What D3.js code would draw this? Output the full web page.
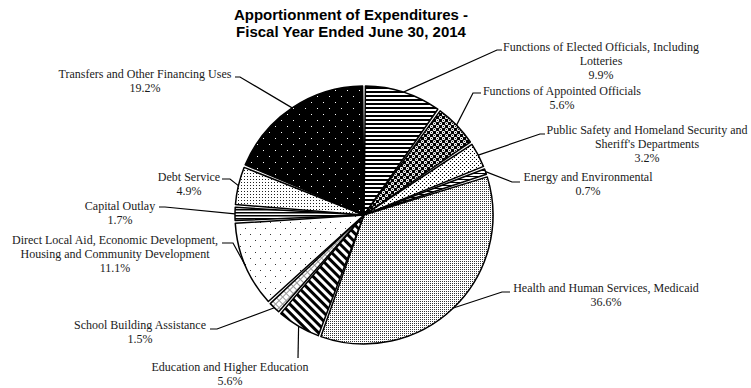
<!DOCTYPE html>
<html>
<head>
<meta charset="utf-8">
<script src="https://cdn.jsdelivr.net/npm/d3@7/dist/d3.min.js"></script>
<style>
  html, body { margin: 0; padding: 0; background: #fff; }
  svg { display: block; }
</style>
</head>
<body>
<svg id="chart" width="751" height="388"></svg>
<script>
// Expenditure categories, clockwise from 12 o'clock
const categories = [
  "Functions of Elected Officials, Including Lotteries",
  "Functions of Appointed Officials",
  "Public Safety and Homeland Security and Sheriff's Departments",
  "Energy and Environmental",
  "Health and Human Services, Medicaid",
  "Education and Higher Education",
  "School Building Assistance",
  "Direct Local Aid, Economic Development, Housing and Community Development",
  "Capital Outlay",
  "Debt Service",
  "Transfers and Other Financing Uses"
];

// Share of total expenditures (%)
const shares = [9.9, 5.6, 3.2, 0.7, 36.6, 5.6, 1.5, 11.1, 1.7, 4.9, 19.2];

// How each category name is broken across label lines
const labelLines = [
  ["Functions of Elected Officials, Including", "Lotteries"],
  ["Functions of Appointed Officials"],
  ["Public Safety and Homeland Security and", "Sheriff's Departments"],
  ["Energy and Environmental"],
  ["Health and Human Services, Medicaid"],
  ["Education and Higher Education"],
  ["School Building Assistance"],
  ["Direct Local Aid, Economic Development,", "Housing and Community Development"],
  ["Capital Outlay"],
  ["Debt Service"],
  ["Transfers and Other Financing Uses"]
];

const titleLines = ["Apportionment of Expenditures -", "Fiscal Year Ended June 30, 2014"];

// Label placement: text block centre x, first baseline y, leader elbow and leader end
const labelLayout = [
  { x: 601, y: 51,  elbow: [497, 50],  end: [502, 50] },
  { x: 562, y: 95,  elbow: [473, 93],  end: [481, 93] },
  { x: 647, y: 134, elbow: [540, 134], end: [545, 134] },
  { x: 588, y: 181, elbow: [512, 182], end: [520, 182] },
  { x: 606, y: 292, elbow: [502, 292], end: [510, 292] },
  { x: 230, y: 371, elbow: [298, 358], end: [298, 358] },
  { x: 140, y: 329, elbow: [217, 329], end: [210, 329] },
  { x: 115, y: 244, elbow: [233, 243], end: [222, 243] },
  { x: 120, y: 210, elbow: [165, 207], end: [159, 207] },
  { x: 189, y: 181, elbow: [230, 179], end: [222, 179] },
  { x: 145, y: 78,  elbow: [240, 77],  end: [235, 77] }
];

const svg = d3.select("#chart");
const cx = 364, cy = 215, R = 129;

// ---- fill patterns, one per slice ----
const defs = svg.append("defs");
function pattern(id, w, h, build, transform) {
  const p = defs.append("pattern")
    .attr("id", id)
    .attr("patternUnits", "userSpaceOnUse")
    .attr("width", w).attr("height", h);
  if (transform) p.attr("patternTransform", transform);
  build(p);
}
const rect = (p, x, y, w, h, fill) =>
  p.append("rect").attr("x", x).attr("y", y).attr("width", w).attr("height", h).attr("fill", fill);
const dot = (p, x, y, r, fill) =>
  p.append("circle").attr("cx", x).attr("cy", y).attr("r", r).attr("fill", fill);

// horizontal stripes
pattern("pat0", 4, 4, p => { rect(p, 0, 0, 4, 4, "#fff"); rect(p, 0, 0, 4, 2, "#000"); });
// white rings on black
pattern("pat1", 6, 6, p => {
  rect(p, 0, 0, 6, 6, "#000");
  dot(p, 1.5, 1.5, 1.6, "#fff"); dot(p, 4.5, 4.5, 1.6, "#fff");
  dot(p, 1.5, 1.5, 0.6, "#000"); dot(p, 4.5, 4.5, 0.6, "#000");
});
// small dots
pattern("pat2", 4, 4, p => { rect(p, 0, 0, 4, 4, "#fff"); rect(p, 0, 0, 1, 1, "#000"); rect(p, 2, 2, 1, 1, "#000"); });
// fine stripes
pattern("pat3", 3, 3, p => { rect(p, 0, 0, 3, 3, "#fff"); rect(p, 0, 0, 3, 1, "#000"); });
// dense dot screen
pattern("pat4", 2, 2, p => { rect(p, 0, 0, 2, 2, "#fff"); rect(p, 0, 0, 1, 1, "#333"); });
// wide diagonal stripes
pattern("pat5", 6, 6, p => { rect(p, 0, 0, 6, 6, "#fff"); rect(p, 0, 0, 6, 3, "#000"); }, "rotate(45)");
// light diagonal grid
pattern("pat6", 5, 5, p => {
  rect(p, 0, 0, 5, 5, "#fff");
  rect(p, 0, 0, 5, 1, "#999"); rect(p, 0, 0, 1, 5, "#999");
}, "rotate(45)");
// sparse dots
pattern("pat7", 10, 12, p => { rect(p, 0, 0, 10, 12, "#fff"); rect(p, 1, 1, 1, 1, "#333"); rect(p, 6, 7, 1, 1, "#333"); });
// fine horizontal stripes
pattern("pat8", 3, 3, p => { rect(p, 0, 0, 3, 3, "#fff"); rect(p, 0, 0, 3, 1.5, "#000"); });
// medium dots
pattern("pat9", 3, 3, p => { rect(p, 0, 0, 3, 3, "#fff"); rect(p, 0, 0, 1, 1, "#222"); });
// white dots on black
pattern("pat10", 12, 12, p => { rect(p, 0, 0, 12, 12, "#000"); rect(p, 1, 1, 1, 1, "#fff"); rect(p, 7, 7, 1, 1, "#fff"); });

// ---- title ----
svg.append("g")
  .selectAll("text")
  .data(titleLines)
  .join("text")
  .attr("x", 351)
  .attr("y", (d, i) => 20 + i * 17)
  .attr("text-anchor", "middle")
  .attr("font-family", "'Liberation Sans', Arial, sans-serif")
  .attr("font-weight", "bold")
  .attr("font-size", 15)
  .attr("fill", "#000")
  .text(d => d);

// ---- pie ----
const pie = d3.pie().sort(null).value(d => d).padAngle(0.022);
const arcs = pie(shares);
const arc = d3.arc().innerRadius(0).outerRadius(R).padRadius(R);

const g = svg.append("g").attr("transform", `translate(${cx},${cy})`);
g.selectAll("path")
  .data(arcs)
  .join("path")
  .attr("d", arc)
  .attr("fill", (d, i) => `url(#pat${i})`)
  .attr("stroke", "#000")
  .attr("stroke-width", 1.5)
  .attr("stroke-linejoin", "round");

// ---- leader lines and labels ----
const midAngle = d => (d.startAngle + d.endAngle) / 2;
const edgePoint = d => [cx + R * Math.sin(midAngle(d)), cy - R * Math.cos(midAngle(d))];

const labels = svg.append("g");
arcs.forEach((d, i) => {
  const L = labelLayout[i];
  const pts = [edgePoint(d), L.elbow, L.end];
  labels.append("path")
    .attr("d", d3.line()(pts))
    .attr("fill", "none")
    .attr("stroke", "#000")
    .attr("stroke-width", 1.2);

  const lines = labelLines[i].concat([d3.format(".1f")(shares[i]) + "%"]);
  labels.append("g")
    .selectAll("text")
    .data(lines)
    .join("text")
    .attr("x", L.x)
    .attr("y", (t, j) => L.y + j * 14)
    .attr("text-anchor", "middle")
    .attr("font-family", "'Liberation Serif', 'Times New Roman', serif")
    .attr("font-size", 12)
    .attr("fill", "#1a1a1a")
    .text(t => t);
});
</script>
</body>
</html>
